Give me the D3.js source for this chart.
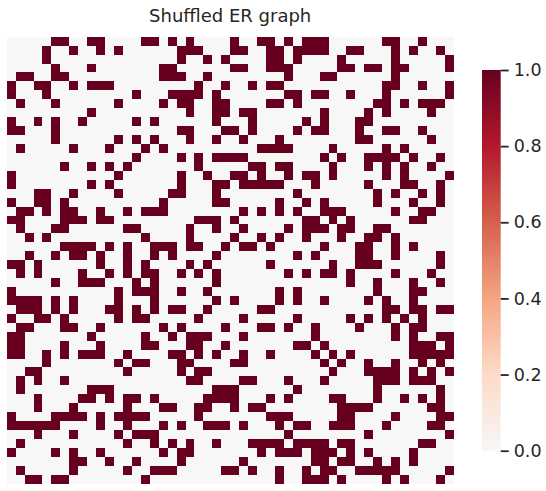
<!DOCTYPE html>
<html>
<head>
<meta charset="utf-8">
<script src="https://cdn.jsdelivr.net/npm/d3@7"></script>
<style>
  body { margin: 0; background: #fff; }
  text { font-family: "DejaVu Sans", sans-serif; fill: #262626; }
</style>
</head>
<body>
<div id="chart"></div>
<script>
// upper triangle of the adjacency matrix: for node i, neighbours j > i
const upperNeighbors = [
  [5,6,9,10,15,16,18,20,25,28,29,31,33,34,35,42,43,46],
  [4,7,10,12,19,20,21,25,26,29,30,32,33,34,35,38,39,43,45,48],
  [4,19,22,24,29,30,32,37,43,49],
  [5,9,17,18,25,26,29,30,31,37,38,40,41,43,44,49],
  [5,6,17,18,19,22,31,35,36,43],
  [7,9,10,11,21,24,27,29,30,42,43,46,49],
  [14,18,19,20,21,23,31,32,34,35,38,42,49],
  [12,17,19,20,23,24,29,30,32,41,42,44,46,47,48],
  [9,20,23,24,26,27,35,40,42,47],
  [14,16,23,27,33,35,39,40],
  [19,20,24,25,27,32,34,35,39,42,43,46],
  [12,14,16,20,23,26,30,39,40,47],
  [15,17,28,29,30,31,36,42,44],
  [14,19,21,23,24,25,26,35,37,40,41,42,43,45,48],
  [21,27,28,30,31,36,40,42,44,47],
  [19,22,25,26,28,31,33,34,36,42,44,49],
  [19,23,24,26,27,28,29,30,34,40,44,45,48],
  [18,19,23,32,41,43,46,48],
  [23,24,30,33,35,41,45,48],
  [26,28,30,32,35,36,37,43,46,47],
  [21,22,23,25,33,34,36,38,45,46],
  [23,26,31,33,34,35,37,38,41,42],
  [25,28,30,33,37,40,41,43],
  [24,26,27,29,35,39,40,43,45],
  [32,34,39,40,43,48],
  [29,36,39,40,41,48],
  [31,33,35,36,38,43,47],
  [38,41,45,48],
  [30,32,41,45,46],
  [30,32,35,40,42,45],
  [42,43,45,46,48,49],
  [32,38,40,42,44,46],
  [34,39,43,45,46],
  [34,43,45,48,49],
  [35,45,46,47,49],
  [36,38,45,46,47,48,49],
  [37,40,43,46,48],
  [40,41,42,43,45,47,49],
  [41,42,43,45,46,47],
  [41,48],
  [41,44,46,48],
  [47,48],
  [43,48,49],
  [47,48],
  [49],
  [46,47],
  [],
  [],
  [49],
  []
];
const nodes = d3.range(upperNeighbors.length);
const colorbarTicks = [0.0, 0.2, 0.4, 0.6, 0.8, 1.0];
const title = "Shuffled ER graph";

// full symmetric matrix as cells
const cells = [];
nodes.forEach(i => nodes.forEach(j => {
  const v = (upperNeighbors[i].includes(j) || upperNeighbors[j].includes(i)) ? 1 : 0;
  cells.push({row: i, col: j, value: v});
}));

const width = 546, height = 491;
const svg = d3.select("#chart").append("svg")
  .attr("width", width)
  .attr("height", height);

const x = d3.scaleBand().domain(nodes).range([6.7, 453.7]);
const y = d3.scaleBand().domain(nodes).range([36.7, 483.7]);

// RdBu_r upper half: white at 0, dark red at 1
const rdbuHalf = ["#f7f7f7", "#fddbc7", "#f4a582", "#d6604d", "#b2182b", "#67001f"];
const color = d3.scaleLinear()
  .domain(d3.range(rdbuHalf.length).map(i => i / (rdbuHalf.length - 1)))
  .range(rdbuHalf)
  .interpolate(d3.interpolateRgb);

svg.append("g")
  .attr("shape-rendering", "crispEdges")
  .selectAll("rect")
  .data(cells)
  .enter()
  .append("rect")
  .attr("x", d => x(d.col))
  .attr("y", d => y(d.row))
  .attr("width", x.bandwidth() + 0.6)
  .attr("height", y.bandwidth() + 0.6)
  .attr("fill", d => color(d.value));

svg.append("text")
  .attr("x", (x.range()[0] + x.range()[1]) / 2)
  .attr("y", 22)
  .attr("text-anchor", "middle")
  .style("font-size", "18px")
  .text(title);

// colorbar
const cbX = 482, cbW = 18.7;
const cy = d3.scaleLinear().domain([0, 1]).range([450.7, 70]);

const grad = svg.append("defs").append("linearGradient")
  .attr("id", "cbgrad")
  .attr("x1", 0).attr("y1", 1).attr("x2", 0).attr("y2", 0);
grad.selectAll("stop")
  .data(d3.range(0, 1.0001, 0.05))
  .enter()
  .append("stop")
  .attr("offset", d => d)
  .attr("stop-color", d => color(d));

svg.append("rect")
  .attr("x", cbX)
  .attr("y", cy(1))
  .attr("width", cbW)
  .attr("height", cy(0) - cy(1))
  .attr("fill", "url(#cbgrad)");

const axis = svg.append("g")
  .attr("transform", `translate(${cbX + cbW},0)`)
  .call(d3.axisRight(cy).tickValues(colorbarTicks).tickFormat(d3.format(".1f")).tickSize(8).tickPadding(5));
axis.select(".domain").remove();
axis.selectAll(".tick line").attr("stroke", "#262626").attr("stroke-width", 1.8);
axis.selectAll(".tick text")
  .style("font-size", "17.5px")
  .style("font-family", "DejaVu Sans, sans-serif")
  .attr("fill", "#262626");
</script>
</body>
</html>
